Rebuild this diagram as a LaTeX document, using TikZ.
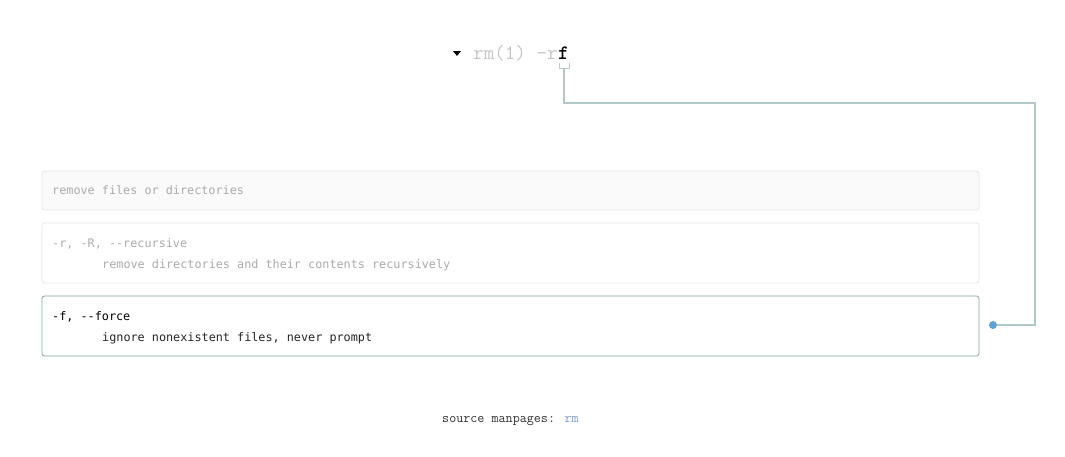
\documentclass[tikz,border=0pt]{standalone}
\usepackage{fontspec}
\newfontfamily\boxfont{DejaVu Sans Mono}
\begin{document}
\begin{tikzpicture}[x=1pt,y=-1pt,
  box/.style={draw=boxline, rounded corners=2.5pt, minimum width=937pt, inner sep=0pt, line width=0.8pt},
  boxtxt/.style={anchor=base west, inner sep=0pt, font=\boxfont\fontsize{11.8}{14}\selectfont},
  conn/.style={draw=connline, line width=1.1pt}]
\definecolor{boxline}{HTML}{E6E6E6}
\definecolor{boxfill}{HTML}{FAFAFA}
\definecolor{activeline}{HTML}{7FA6A6}
\definecolor{greytxt}{HTML}{ABABAB}
\definecolor{titlegrey}{HTML}{C6C6C6}
\definecolor{connline}{HTML}{AFC8CA}
\definecolor{dotblue}{HTML}{5D9FD6}
\definecolor{linkblue}{HTML}{7E9DC4}
\useasboundingbox[fill=white] (0,0) rectangle (1065,456);

% title
\fill[black] (453,51) -- (461,51) -- (457,56) -- cycle;
\node[anchor=base west, inner sep=0pt, text=titlegrey, font=\ttfamily\fontsize{20.5}{22}\selectfont] (title) at (473,59) {rm(1) -r};
\node[anchor=base west, inner sep=0pt, text=black, font=\ttfamily\bfseries\fontsize{20.5}{22}\selectfont] (flag) at (title.base east) {f};
\coordinate (brk) at (564,68);
\draw[titlegrey, line width=0.8pt] (559,63) -- (559,68) -- (569,68) -- (569,63);

% boxes
\node[box, fill=boxfill, minimum height=39pt] (b1) at (510.5,190.5) {};
\node[box, fill=white, minimum height=60pt] (b2) at (510.5,253) {};
\node[box, draw=activeline, fill=white, minimum height=60pt] (b3) at (510.5,326) {};

\node[boxtxt, text=greytxt] (t1) at (52,194) {remove files or directories};
\node[boxtxt, text=greytxt] (t2a) at (52,247) {-r, -R, --recursive};
\node[boxtxt, text=greytxt] (t2b) at (102,268) {remove directories and their contents recursively};
\node[boxtxt, text=black] (t3a) at (52,320) {-f, --force};
\node[boxtxt, text=black!85] (t3b) at (102,341) {ignore nonexistent files, never prompt};

% connector
\coordinate (c1) at (1035,103);
\node[circle, fill=dotblue, inner sep=0pt, minimum size=8pt] (dot) at (993,325) {};
\draw[conn] (brk) |- (c1) |- (dot);

% source
\node[anchor=base west, inner sep=0pt, text=black!80, font=\ttfamily\fontsize{13.7}{15}\selectfont] (src) at (442,422) {source manpages: \textcolor{linkblue}{rm}};
\end{tikzpicture}
\end{document}
